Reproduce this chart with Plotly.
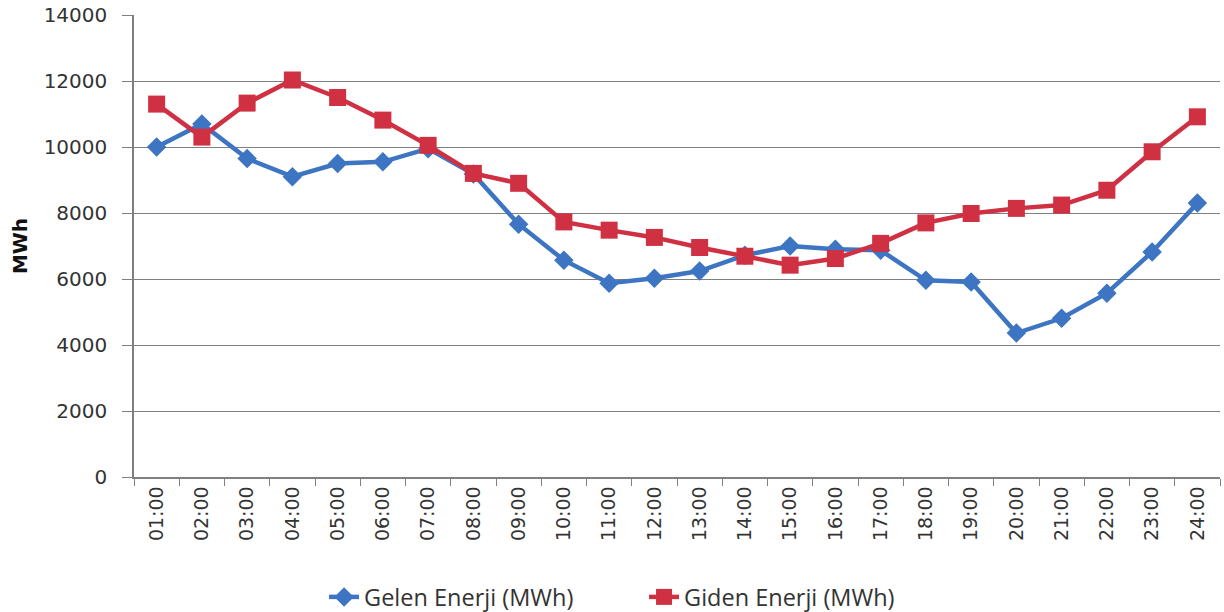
import plotly.graph_objects as go

hours = ["01:00", "02:00", "03:00", "04:00", "05:00", "06:00", "07:00", "08:00",
         "09:00", "10:00", "11:00", "12:00", "13:00", "14:00", "15:00", "16:00",
         "17:00", "18:00", "19:00", "20:00", "21:00", "22:00", "23:00", "24:00"]

gelen = [10000, 10700, 9650, 9100, 9500, 9550, 9950, 9180, 7660, 6570, 5870, 6020,
         6240, 6720, 7000, 6900, 6870, 5960, 5910, 4360, 4810, 5570, 6820, 8300]

giden = [11300, 10300, 11330, 12030, 11500, 10815, 10050, 9200, 8900, 7730, 7480, 7260,
         6955, 6690, 6420, 6620, 7080, 7700, 7985, 8140, 8240, 8690, 9855, 10915]

y_ticks = [0, 2000, 4000, 6000, 8000, 10000, 12000, 14000]
y_labels = ["0", "2000", "4000", "6000", "8000", "10000", "12000", "14000"]

blue = "#3D75C2"
red = "#CF3143"

fig = go.Figure()
fig.add_trace(go.Scatter(
    x=hours, y=gelen, mode="lines+markers", name="Gelen Enerji (MWh)",
    line=dict(color=blue, width=4.5),
    marker=dict(symbol="diamond", size=15, color=blue),
))
fig.add_trace(go.Scatter(
    x=hours, y=giden, mode="lines+markers", name="Giden Enerji (MWh)",
    line=dict(color=red, width=4.5),
    marker=dict(symbol="square", size=17, color=red),
))

fig.update_layout(
    width=1224, height=612,
    margin=dict(l=134, r=4, t=15, b=135, autoexpand=False),
    paper_bgcolor="white", plot_bgcolor="white",
    font=dict(family="DejaVu Sans", color="#333333"),
    showlegend=True,
    legend=dict(orientation="h", x=0.175, xanchor="left", y=-0.26, yanchor="middle",
                font=dict(family="Open Sans", size=23.5, color="#333333"),
                entrywidth=275, traceorder="normal"),
    xaxis=dict(
        type="category", tickson="boundaries", ticks="outside", ticklen=7,
        tickcolor="#808080", showline=True, linecolor="#808080", linewidth=1.5,
        showgrid=False, tickangle=-90, automargin=False,
        tickfont=dict(family="DejaVu Sans", size=19, color="#333333"),
        range=[-0.5, 23.5],
    ),
    yaxis=dict(
        range=[0, 14000], tickvals=y_ticks, ticktext=y_labels, ticks="outside", ticklen=10,
        tickcolor="#808080", showline=True, linecolor="#808080", linewidth=1.5,
        showgrid=True, gridcolor="#7f7f7f", gridwidth=1.3, zeroline=False,
        automargin=False, ticklabelstandoff=11, ticklabeloverflow="allow",
        tickfont=dict(family="DejaVu Sans", size=20, color="#333333"),
        title=dict(text="<b>MWh</b>", font=dict(family="DejaVu Sans", size=20, color="#111111"),
                   standoff=11),
    ),
)

fig.write_html("out.html", config={"displayModeBar": False},
               post_script="document.body.style.margin='0';")
